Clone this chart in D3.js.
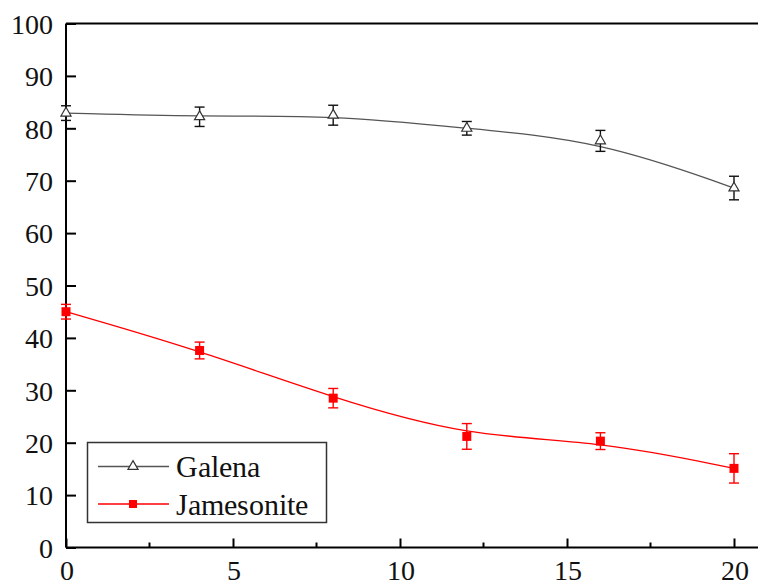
<!DOCTYPE html>
<html>
<head>
<meta charset="utf-8">
<script src="https://cdn.jsdelivr.net/npm/d3@7"></script>
<style>
  @font-face { font-family: 'ChartSerif'; src: local('Liberation Serif'), local('LiberationSerif'), local('Times New Roman'); }
  body { margin: 0; background: #fff; }
</style>
</head>
<body>
<div id="target"></div>
<script>
const width = 758;
const height = 584;
const font = 'ChartSerif, Liberation Serif, Times New Roman, serif';

const xValues = [0, 4, 8, 12, 16, 20];
const galena = [82.9, 82.2, 82.5, 80.0, 77.6, 68.6];
const galenaErr = [1.4, 1.85, 1.9, 1.3, 2.0, 2.25];
const jamesonite = [45.0, 37.6, 28.5, 21.2, 20.3, 15.1];
const jamesoniteErr = [1.4, 1.6, 1.85, 2.45, 1.6, 2.8];
const xTicks = [0, 5, 10, 15, 20];
const xMinorTicks = [2.5, 7.5, 12.5, 17.5];
const yTicks = [0, 10, 20, 30, 40, 50, 60, 70, 80, 90, 100];

const series = [
  { name: 'Galena', values: galena, err: galenaErr, color: '#555', marker: 'triangle' },
  { name: 'Jamesonite', values: jamesonite, err: jamesoniteErr, color: '#ff0000', marker: 'square' },
];

const svg = d3.select('#target').append('svg')
  .attr('width', width).attr('height', height)
  .attr('font-family', font);

const x = d3.scaleLinear().domain([0, 20]).range([66, 734]);
const y = d3.scaleLinear().domain([0, 100]).range([547.5, 23.5]);

// frame: top border runs off the right edge
svg.append('line')
  .attr('x1', x(0)).attr('x2', x(22))
  .attr('y1', y(100)).attr('y2', y(100))
  .attr('stroke', '#000').attr('stroke-width', 2);

// x axis, ticks pointing inward
const xAxis = svg.append('g').attr('transform', `translate(0,${y(0)})`)
  .call(d3.axisBottom(x).tickValues(xTicks).tickSize(-9).tickPadding(13).tickFormat(d3.format('d')));
xAxis.select('.domain').attr('d', `M${x(0)},0H${x(22)}`);
xAxis.append('g').selectAll('line')
  .data(xMinorTicks)
  .enter()
  .append('line')
  .attr('x1', (d) => x(d)).attr('x2', (d) => x(d))
  .attr('y1', 0).attr('y2', -5)
  .attr('stroke', '#000').attr('stroke-width', 2);

// y axis
const yAxis = svg.append('g').attr('transform', `translate(${x(0)},0)`)
  .call(d3.axisLeft(y).tickValues(yTicks).tickSize(-10).tickPadding(13));
yAxis.select('.domain').attr('d', `M0,${y(0)}V${y(100)}`);

svg.selectAll('.domain').attr('stroke', '#000').attr('stroke-width', 2);
svg.selectAll('.tick line').attr('stroke', '#000').attr('stroke-width', 2);
xAxis.selectAll('.tick text').attr('dy', '0.71em');
yAxis.selectAll('.tick text').attr('dy', '0.35em');
svg.selectAll('.tick text')
  .attr('fill', '#111')
  .attr('font-size', 28)
  .attr('font-family', font);

const line = d3.line()
  .x((d, i) => x(xValues[i]))
  .y((d) => y(d))
  .curve(d3.curveBasis);

function marker(g, type, color, size) {
  if (type === 'triangle') {
    g.append('path')
      .attr('d', d3.symbol().type(d3.symbolTriangle).size(size * size * 0.55)())
      .attr('fill', '#fff').attr('stroke', '#333').attr('stroke-width', 1.2);
  } else {
    g.append('rect')
      .attr('x', -size / 2).attr('y', -size / 2)
      .attr('width', size).attr('height', size)
      .attr('fill', color);
  }
}

series.forEach((s) => {
  const errColor = s.marker === 'triangle' ? '#111' : '#ff0000';
  svg.append('path')
    .datum(s.values)
    .attr('d', line)
    .attr('fill', 'none')
    .attr('stroke', s.color)
    .attr('stroke-width', 1.3);

  const bars = svg.append('g').selectAll('g')
    .data(s.values)
    .enter()
    .append('g')
    .attr('transform', (d, i) => `translate(${x(xValues[i])},0)`);
  bars.append('line')
    .attr('y1', (d, i) => y(d + s.err[i])).attr('y2', (d, i) => y(d - s.err[i]))
    .attr('stroke', errColor).attr('stroke-width', 1.4);
  bars.append('line')
    .attr('x1', -5).attr('x2', 5)
    .attr('y1', (d, i) => y(d + s.err[i])).attr('y2', (d, i) => y(d + s.err[i]))
    .attr('stroke', errColor).attr('stroke-width', 1.4);
  bars.append('line')
    .attr('x1', -5).attr('x2', 5)
    .attr('y1', (d, i) => y(d - s.err[i])).attr('y2', (d, i) => y(d - s.err[i]))
    .attr('stroke', errColor).attr('stroke-width', 1.4);

  bars.each(function (d) {
    const g = d3.select(this).append('g').attr('transform', `translate(0,${y(d)})`);
    marker(g, s.marker, s.color, 9);
  });
});

// legend
const legend = svg.append('g');
legend.append('rect')
  .attr('x', 87.5).attr('y', 442.5)
  .attr('width', 239).attr('height', 80)
  .attr('fill', '#fff')
  .attr('stroke', '#333')
  .attr('stroke-width', 1.5);

series.forEach((s, i) => {
  const ly = 466.5 + i * 37.5;
  const row = legend.append('g').attr('transform', `translate(0,${ly})`);
  row.append('line')
    .attr('x1', 98).attr('x2', 169)
    .attr('stroke', s.color).attr('stroke-width', 1.3);
  const m = row.append('g').attr('transform', 'translate(133,0)');
  marker(m, s.marker, s.color, s.marker === 'triangle' ? 9 : 8);
  row.append('text')
    .attr('x', 176)
    .attr('dy', '0.35em')
    .attr('font-size', 30)
    .attr('font-family', font)
    .attr('fill', '#111')
    .text(s.name);
});
</script>
</body>
</html>
